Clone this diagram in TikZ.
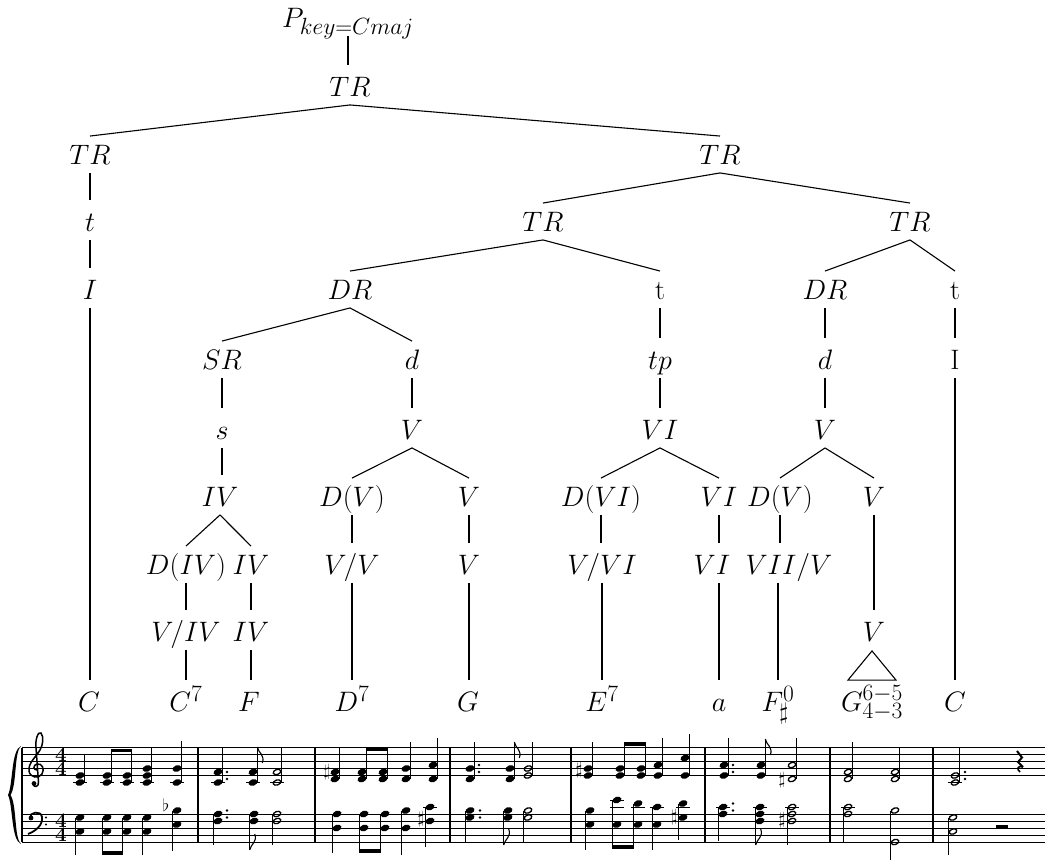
\documentclass[tikz,border=0pt]{standalone}
\usetikzlibrary{calc}
\tikzset{
 lab/.style={inner sep=0pt, text height=19.5pt, text depth=0pt, font=\Huge},
 edge/.style={line width=1.1pt},
 stf/.style={line width=0.9pt},
 barl/.style={line width=1.3pt},
 stm/.style={line width=1.2pt},
 acc/.style={inner sep=0pt, font=\LARGE},
 tsig/.style={inner sep=0pt, align=center, font=\fontsize{20.74}{14}\selectfont\bfseries},
}
\newcommand\lbx[1]{\scalebox{1.13}{#1}}
\newcommand\vedge[2]{\draw[edge] ($(#1.south)+(0,8)$) -- ($(#1.south |- #2.north)+(0,-12)$);}
\newcommand\vedgeb[2]{\draw[edge] ($(#2.north |- #1.south)+(0,8)$) -- ($(#2.north)+(0,-12)$);}
\newcommand\sedge[2]{\draw[edge] ($(#1.south)+(0,8)$) -- ($(#2.north)+(0,-9)$);}
\newcommand\mzhf[2]{\fill[rotate around={20:(#1,#2)}] (#1,#2) ellipse (4.6 and 3.2);}
\newcommand\mzho[2]{\draw[line width=1.3pt, rotate around={20:(#1,#2)}] (#1,#2) ellipse (3.9 and 2.5);}
\newcommand\mzqup[4]{\foreach \yy in {#2}{\mzhf{#1}{\yy}}\draw[stm] (#1+4.3,#3) -- (#1+4.3,#4);}
\newcommand\mzqdn[4]{\foreach \yy in {#2}{\mzhf{#1}{\yy}}\draw[stm] (#1-4.3,#3) -- (#1-4.3,#4);}
\newcommand\mzhup[4]{\foreach \yy in {#2}{\mzho{#1}{\yy}}\draw[stm] (#1+4.3,#3) -- (#1+4.3,#4);}
\newcommand\mzhdn[4]{\foreach \yy in {#2}{\mzho{#1}{\yy}}\draw[stm] (#1-4.3,#3) -- (#1-4.3,#4);}
\newcommand\mzflu[2]{\draw[line width=1.1pt] (#1,#2) .. controls (#1+1,#2+6) and (#1+8,#2+8) .. (#1+5,#2+16);}
\newcommand\mzfld[2]{\draw[line width=1.1pt] (#1,#2) .. controls (#1+1,#2-6) and (#1+8,#2-8) .. (#1+5,#2-16);}
\newcommand\mzled[2]{\draw[stf] (#1-7,#2) -- (#1+7,#2);}
\newcommand\mzdot[2]{\fill (#1,#2) circle (1.3);}
\begin{document}
\begin{tikzpicture}[x=1pt,y=-1pt]
\useasboundingbox (0,0) rectangle (1045,861);
% ---------------- tree ----------------
\node[lab] (P) at (348,18) {\lbx{$P_{key=Cmaj}$}};
\node[lab] (TR0) at (350,87) {\lbx{$TR$}};
\node[lab] (TRa) at (90,155) {\lbx{$TR$}};
\node[lab] (ta) at (90,222) {\lbx{$t$}};
\node[lab] (Ia) at (90,290) {\lbx{$I$}};
\node[lab] (TRb) at (720,155) {\lbx{$TR$}};
\node[lab] (TRc) at (543,222) {\lbx{$TR$}};
\node[lab] (TRd) at (910,222) {\lbx{$TR$}};
\node[lab] (DRa) at (350,290) {\lbx{$DR$}};
\node[lab] (tb) at (660,290) {\lbx{t}};
\node[lab] (DRb) at (825,290) {\lbx{$DR$}};
\node[lab] (tc) at (955,290) {\lbx{t}};
\node[lab] (SR) at (222,360) {\lbx{$SR$}};
\node[lab] (da) at (412,360) {\lbx{$d$}};
\node[lab] (tp) at (660,360) {\lbx{$tp$}};
\node[lab] (db) at (825,360) {\lbx{$d$}};
\node[lab] (Ib) at (955,360) {\lbx{I}};
\node[lab] (s) at (222,430) {\lbx{$s$}};
\node[lab] (Va) at (412,430) {\lbx{$V$}};
\node[lab] (VIa) at (660,430) {\lbx{$VI$}};
\node[lab] (Vb) at (825,430) {\lbx{$V$}};
\node[lab] (IVa) at (220,497) {\lbx{$IV$}};
\node[lab] (DVa) at (352,497) {\lbx{$D(V)$}};
\node[lab] (Vc) at (469,497) {\lbx{$V$}};
\node[lab] (DVI) at (601,497) {\lbx{$D(VI)$}};
\node[lab] (VIb) at (719,497) {\lbx{$VI$}};
\node[lab] (DVb) at (780,497) {\lbx{$D(V)$}};
\node[lab] (Vd) at (874,497) {\lbx{$V$}};
\node[lab] (DIV) at (186,565) {\lbx{$D(IV)$}};
\node[lab] (IVb) at (251,565) {\lbx{$IV$}};
\node[lab] (VV) at (352,565) {\lbx{$V/V$}};
\node[lab] (Ve) at (469,565) {\lbx{$V$}};
\node[lab] (VVI) at (602,565) {\lbx{$V/VI$}};
\node[lab] (VIc) at (712,565) {\lbx{$VI$}};
\node[lab] (VIIV) at (789,565) {\lbx{$VII/V$}};
\node[lab] (VIV) at (186,632) {\lbx{$V/IV$}};
\node[lab] (IVc) at (251,632) {\lbx{$IV$}};
\node[lab] (Vf) at (874,632) {\lbx{$V$}};
\node[lab] (Ca) at (89,702) {\lbx{$C$}};
\node[lab] (C7) at (186,702) {\lbx{$C^7$}};
\node[lab] (F) at (249,702) {\lbx{$F$}};
\node[lab] (D7) at (352,702) {\lbx{$D^7$}};
\node[lab] (G) at (468,702) {\lbx{$G$}};
\node[lab] (E7) at (602,702) {\lbx{$E^7$}};
\node[lab] (a) at (719,702) {\lbx{$a$}};
\node[lab] (Fs) at (778,702) {\lbx{$F^0_\sharp$}};
\node[lab] (G65) at (872,702) {\lbx{$G^{6-5}_{4-3}$}};
\node[lab] (Cb) at (955,702) {\lbx{$C$}};
\vedge{P}{TR0}
\sedge{TR0}{TRa} \sedge{TR0}{TRb}
\vedge{TRa}{ta} \vedge{ta}{Ia} \vedge{Ia}{Ca}
\sedge{TRb}{TRc} \sedge{TRb}{TRd}
\sedge{TRc}{DRa} \sedge{TRc}{tb}
\sedge{TRd}{DRb} \sedge{TRd}{tc}
\sedge{DRa}{SR} \sedge{DRa}{da}
\vedge{tb}{tp} \vedge{tp}{VIa}
\vedge{DRb}{db} \vedge{db}{Vb}
\vedge{tc}{Ib} \vedge{Ib}{Cb}
\vedge{SR}{s} \vedge{s}{IVa}
\vedge{da}{Va}
\sedge{Va}{DVa} \sedge{Va}{Vc}
\sedge{VIa}{DVI} \sedge{VIa}{VIb}
\sedge{Vb}{DVb} \sedge{Vb}{Vd}
\sedge{IVa}{DIV} \sedge{IVa}{IVb}
\vedge{DIV}{VIV} \vedge{VIV}{C7}
\vedge{IVb}{IVc} \vedge{IVc}{F}
\vedge{DVa}{VV} \vedge{VV}{D7}
\vedge{Vc}{Ve} \vedge{Ve}{G}
\vedge{DVI}{VVI} \vedge{VVI}{E7}
\vedge{VIb}{VIc} \vedgeb{VIc}{a}
\vedge{DVb}{VIIV} \vedgeb{VIIV}{Fs}
\vedge{Vd}{Vf}
\draw[edge] ($(Vf.south)+(-2,9)$) -- ($(G65.north)+(-24,-12)$) -- ($(G65.north)+(24,-12)$) -- cycle;
% ---------------- score ----------------
\foreach \yy in {747.5,754.5,761.5,768.5,775.5,814,821,828,835,842} \draw[stf] (22,\yy) -- (1045,\yy);
\foreach \xx in {22,198,315,450,571,705,830,933} \draw[barl] (\xx,747.5) -- (\xx,842);
% brace
\fill (21,746) .. controls (11,750) and (13,785) .. (8,795) .. controls (13,805) and (11,840) .. (21,844) .. controls (14,838) and (17,805) .. (10.5,795) .. controls (17,785) and (14,752) .. (21,746) -- cycle;
% treble clef
\draw[line width=1.5pt] (37,770) .. controls (33,770) and (33,765) .. (37,764) .. controls (42,763) and (45,769) .. (42,774) .. controls (39,779) and (30,778) .. (29,771) .. controls (28,763) and (36,757) .. (40,750) .. controls (43,745) and (44,737) .. (41,733) .. controls (38,731) and (35,740) .. (36,748) -- (38.5,782) .. controls (39,787) and (34,788) .. (33,784);
\fill (34,783.5) circle (2.4);
% bass clef
\fill (31,818) circle (2.4);
\draw[line width=1.8pt] (30,818) .. controls (29,812) and (41,810) .. (42,817) .. controls (43,825) and (36,831) .. (28,834);
\fill (46,817.5) circle (1.2); \fill (46,824.5) circle (1.2);
% time signatures
\node[tsig] (ts1) at (61,761.5) {4\\4};
\node[tsig] (ts2) at (61,828) {4\\4};
% measure 1
\mzqup{80}{782.5,775.5}{782.5}{755} \mzled{80}{782.5}
\mzqup{107}{782.5,775.5}{782.5}{750} \mzled{107}{782.5}
\mzqup{127}{782.5,775.5}{782.5}{750} \mzled{127}{782.5}
\fill (110.7,748.5) rectangle (131.9,752);
\mzqup{147}{782.5,775.5,768.5}{782.5}{747} \mzled{147}{782.5}
\mzqup{177}{782.5,768.5}{782.5}{741} \mzled{177}{782.5}
\mzqdn{80}{817.5,831.5}{817.5}{855}
\mzqdn{107}{817.5,831.5}{817.5}{854}
\mzqdn{127}{817.5,831.5}{817.5}{854}
\fill (102.1,851) rectangle (123.3,854.5);
\mzqdn{147}{817.5,831.5}{817.5}{855}
\node[acc] (ac1) at (166,805) {$\flat$};
\mzqdn{177}{810.5,824.5}{810.5}{851}
% measure 2
\mzqup{218}{782.5,772}{782.5}{747} \mzled{218}{782.5} \mzdot{227}{772} \mzdot{227}{779}
\mzqup{253}{782.5,772}{782.5}{747} \mzled{253}{782.5} \mzflu{257.3}{747}
\mzhup{277}{782.5,772}{782.5}{747} \mzled{277}{782.5}
\mzqdn{218}{814,821}{814}{845} \mzdot{227}{810.5} \mzdot{227}{817.5}
\mzqdn{254}{814,821}{814}{850} \mzfld{249.7}{850}
\mzhdn{277}{814,821}{814}{845}
% measure 3
\node[acc] (ac2) at (327,772) {$\sharp$};
\mzqup{335}{779,772}{779}{747}
\mzqup{362}{779,772}{779}{749}
\mzqup{383}{779,772}{779}{749}
\fill (365.7,747) rectangle (387.9,750.5);
\mzqup{406}{779,768.5}{779}{742}
\mzqup{433}{779,765}{779}{738}
\mzqdn{337}{814,828}{814}{853}
\mzqdn{364}{814,828}{814}{852}
\mzqdn{385}{814,828}{814}{852}
\fill (359.1,849) rectangle (381.3,852.5);
\mzqdn{406}{810.5,828}{810.5}{855}
\node[acc] (ac3) at (421,819) {$\sharp$};
\mzqdn{430}{807,821}{807}{847} \mzled{430}{807}
% measure 4
\mzqup{470}{779,768.5}{779}{742} \mzdot{479}{772} \mzdot{479}{765}
\mzqup{510}{779,768.5}{779}{742} \mzflu{514.3}{742}
\mzhup{528}{775.5,768.5}{775.5}{742}
\mzqdn{470}{810.5,817.5}{810.5}{842} \mzdot{480}{810.5} \mzdot{480}{817.5}
\mzqdn{508}{810.5,817.5}{810.5}{845} \mzfld{503.7}{845}
\mzhdn{528}{810.5,817.5}{810.5}{842}
% measure 5
\node[acc] (ac4) at (579,770) {$\sharp$};
\mzqup{588}{775.5,768.5}{775.5}{742}
\mzqup{620}{775.5,768.5}{775.5}{745}
\mzqup{641}{775.5,768.5}{775.5}{745}
\fill (623.7,742) rectangle (645.9,745.5);
\mzqup{658}{775.5,765}{775.5}{738}
\mzqup{685}{775.5,758}{775.5}{734}
\mzqdn{590}{810.5,824.5}{810.5}{850}
\mzqdn{617}{800,824.5}{800}{848} \mzled{617}{807} \mzled{617}{800}
\mzqdn{638}{803.5,824.5}{803.5}{848} \mzled{638}{807}
\fill (612.1,845) rectangle (634.3,848.5);
\mzqdn{657}{807,824.5}{807}{850} \mzled{657}{807}
\node[acc] (ac5) at (674,817.5) {$\sharp$};
\mzqdn{683}{803.5,817.5}{803.5}{840} \mzled{683}{807}
% measure 6
\mzqup{724}{775.5,765}{775.5}{738} \mzdot{733}{772} \mzdot{733}{765}
\mzqup{761}{775.5,765}{775.5}{739} \mzflu{765.3}{739}
\node[acc] (ac6) at (782,780) {$\sharp$};
\mzhup{792}{779,765}{779}{738}
\mzqdn{723}{807,814}{807}{841} \mzled{723}{807} \mzdot{733}{803.5} \mzdot{733}{810.5}
\mzqdn{760}{807,814,821}{807}{845} \mzfld{755.7}{845} \mzled{760}{807}
\node[acc] (ac7) at (782,820) {$\sharp$};
\mzhdn{792}{807,814,821}{807}{845} \mzled{792}{807}
% measure 7
\mzhup{848}{779,772}{779}{742}
\mzhup{895}{779,772}{779}{747}
\mzhdn{848}{807,814}{807}{842} \mzled{848}{807}
\mzho{895}{810.5} \mzho{895}{842}
\draw[stm] (890.7,810.5) -- (890.7,860);
% measure 8
\mzhup{955}{782.5,775.5}{782.5}{748} \mzled{955}{782.5} \mzdot{965}{779} \mzdot{965}{772}
\draw[line width=2pt] (1017,751) -- (1022,757.5) -- (1018,762) -- (1023,767);
\draw[line width=1.6pt] (1023,767) .. controls (1018,765) and (1016,769) .. (1020,772);
\mzhdn{953}{817.5,831.5}{817.5}{855}
\fill (996,824.5) rectangle (1008,828);
\end{tikzpicture}
\end{document}
